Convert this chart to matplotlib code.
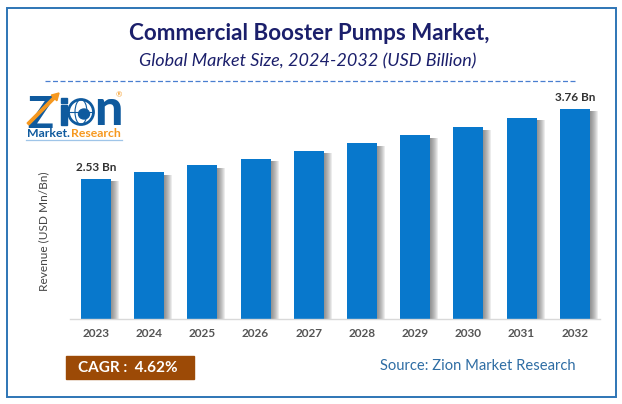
import matplotlib
matplotlib.use('Agg')
import matplotlib.pyplot as plt
from matplotlib.patches import Rectangle, Circle, Ellipse, FancyArrow

plt.rcParams['font.family'] = ['Lato', 'DejaVu Sans']

years = ['2023', '2024', '2025', '2026', '2027', '2028', '2029', '2030', '2031', '2032']
revenue = [2.53, 2.64, 2.76, 2.88, 3.02, 3.15, 3.29, 3.44, 3.60, 3.76]
bar_labels = {0: '2.53 Bn', 9: '3.76 Bn'}

W, H = 622, 404
fig = plt.figure(figsize=(W / 100, H / 100), dpi=100)

# overlay in pixel coords for the frame, titles and logo
bg = fig.add_axes([0, 0, 1, 1])
bg.set_xlim(0, W)
bg.set_ylim(H, 0)
bg.axis('off')

bg.add_patch(Rectangle((6.5, 7.5), 609, 389, fill=False, edgecolor='#2e75b6', linewidth=1.4))
bg.text(309, 33, 'Commercial Booster Pumps Market,', ha='center', va='center',
        fontsize=16.1, fontweight='bold', color='#1b1f6b')
bg.text(308, 61, 'Global Market Size, 2024-2032 (USD Billion)', ha='center', va='center',
        fontsize=13, fontstyle='italic', color='#1b1f6b')
bg.plot([45, 575], [81, 81], color='#4a7fd0', linewidth=0.9, dashes=(4, 2))

# logo
blue = '#0f5a9e'
orange = '#f6981f'
bg.text(27, 128, 'Z', ha='left', va='baseline', fontsize=31, fontweight='black', color=blue)
bg.add_patch(FancyArrow(28, 124, 31, -31, width=2.5, head_width=8, head_length=7,
                        length_includes_head=True, color=orange, zorder=3))
bg.add_patch(Rectangle((61, 98), 6, 5, color=blue, zorder=3))
bg.add_patch(Rectangle((61, 105), 6, 20, color=blue, zorder=3))
bg.add_patch(Circle((81, 112), 12.5, facecolor='white', edgecolor=blue, linewidth=2, zorder=3))
bg.add_patch(Ellipse((81, 112), 12, 25, fill=False, edgecolor=blue, linewidth=0.8, zorder=3))
bg.plot([69, 93], [112, 112], color=blue, linewidth=0.8, zorder=3)
bg.add_patch(Ellipse((84, 114), 11, 10, color=blue, zorder=3))
bg.text(94, 125, 'n', ha='left', va='baseline', fontsize=36, fontweight='black', color=blue)
bg.text(119, 95, '®', ha='center', va='center', fontsize=5.5, color=orange)
bg.text(27, 137, 'Market.', ha='left', va='baseline', fontsize=8.8, fontweight='bold', color=blue)
bg.text(71, 137, 'Research', ha='left', va='baseline', fontsize=8.8, fontweight='bold', color=orange)
bg.plot([26, 122], [139.5, 139.5], color='#9fc5e8', linewidth=0.9)

# CAGR box and source
bg.add_patch(Rectangle((66, 356), 128, 23, color='#9c4a06'))
bg.text(78, 368, 'CAGR :  4.62%', ha='left', va='center', fontsize=11,
        fontweight='bold', color='white')
bg.text(477.5, 366, 'Source: Zion Market Research', ha='center', va='center',
        fontsize=10.6, color='#2e6da4')

# chart area, x 70-600 and y 90-318 in pixels
ax = fig.add_axes([70 / W, 1 - 318.5 / H, 530 / W, 228.5 / H])
ax.patch.set_alpha(0)
pitch = 53.2
xs = list(range(len(years)))
ax.set_xlim(-26 / pitch, 504 / pitch)
ax.set_ylim(0.07, 0.07 + 228.5 / 56.9)

# soft shadow at the right of each bar
for step in range(8):
    off = (step + 1) / pitch
    ax.bar([x + off for x in xs], [v - 0.05 for v in revenue], width=30 / pitch,
           color='#555555', alpha=0.11, zorder=1)
ax.bar(xs, revenue, width=30 / pitch, color='#0878cc', zorder=2)

for i, label in bar_labels.items():
    ax.annotate(label, (xs[i], revenue[i]), xytext=(0, 6), textcoords='offset pixels',
                ha='center', va='bottom', fontsize=8.5, fontweight='bold', color='#333333')

for side in ['top', 'right', 'left']:
    ax.spines[side].set_visible(False)
ax.spines['bottom'].set_color('#d9d9d9')
ax.spines['bottom'].set_linewidth(1.0)
ax.set_xticks(xs)
ax.set_xticklabels(years, fontsize=8.5, fontweight='bold', color='#555555')
ax.tick_params(axis='x', length=0, pad=7)
ax.set_yticks([])
ax.set_ylabel('Revenue (USD Mn/Bn)', fontsize=8.6, color='#444444', y=0.38, labelpad=15)

fig.savefig('out.png', dpi=100)
